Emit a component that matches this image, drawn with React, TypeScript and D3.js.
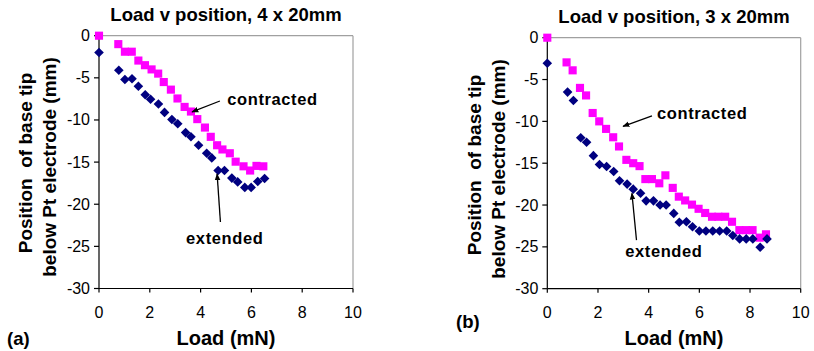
import * as d3 from "d3";

// ---- data ----
const xTicks = [0, 2, 4, 6, 8, 10];
const yTicks = [0, -5, -10, -15, -20, -25, -30];

const aContractedX = [0, 0.76, 1.02, 1.29, 1.55, 1.81, 2.07, 2.33, 2.55, 2.83, 3.09, 3.37, 3.62, 3.87, 4.17, 4.4, 4.65, 4.86, 5.15, 5.38, 5.69, 5.95, 6.2, 6.47];
const aContractedY = [0, -1.0, -1.9, -1.9, -2.95, -3.5, -4.0, -4.5, -5.5, -6.4, -7.45, -8.45, -9.0, -9.9, -10.9, -12.0, -13.0, -13.5, -13.95, -14.95, -15.5, -16.0, -15.45, -15.5];

const aExtendedX = [0, 0.78, 1.02, 1.3, 1.55, 1.82, 2.03, 2.34, 2.58, 2.87, 3.1, 3.41, 3.62, 3.92, 4.24, 4.44, 4.69, 4.94, 5.23, 5.46, 5.74, 5.99, 6.25, 6.52];
const aExtendedY = [-2.0, -4.1, -5.2, -5.1, -6.0, -7.0, -7.55, -8.1, -9.1, -9.95, -10.45, -11.5, -12.0, -13.0, -13.95, -14.5, -16.0, -16.0, -16.9, -17.35, -18.0, -18.0, -17.3, -16.95];

const bContractedX = [0, 0.76, 1.0, 1.29, 1.53, 1.79, 2.05, 2.32, 2.6, 2.83, 3.12, 3.39, 3.64, 3.87, 4.13, 4.42, 4.66, 4.95, 5.19, 5.44, 5.71, 5.97, 6.23, 6.5, 6.75, 7.02, 7.29, 7.58, 7.84, 8.1, 8.38, 8.63];
const bContractedY = [0, -2.95, -3.9, -6.0, -6.9, -9.0, -10.0, -10.9, -11.9, -13.0, -14.6, -15.0, -15.35, -16.9, -16.9, -17.4, -16.45, -17.95, -19.0, -19.45, -19.95, -20.45, -20.95, -21.4, -21.4, -21.4, -22.0, -23.0, -23.0, -23.0, -23.9, -23.5];

const bExtendedX = [0, 0.8, 1.03, 1.32, 1.55, 1.82, 2.06, 2.34, 2.62, 2.85, 3.15, 3.39, 3.68, 3.9, 4.19, 4.45, 4.69, 4.99, 5.21, 5.49, 5.73, 6.0, 6.26, 6.53, 6.8, 7.08, 7.32, 7.59, 7.85, 8.11, 8.4, 8.67];
const bExtendedY = [-3.05, -6.5, -7.5, -11.95, -12.5, -14.1, -15.15, -15.4, -16.0, -17.1, -17.5, -18.1, -18.6, -19.5, -19.5, -20.0, -20.0, -21.0, -22.05, -22.0, -22.6, -23.1, -23.1, -23.1, -23.1, -23.1, -23.65, -24.05, -24.05, -24.05, -25.05, -24.05];

const titles = ["Load v position, 4 x 20mm", "Load v position, 3 x 20mm"];
const panelLabels = ["(a)", "(b)"];

const PINK = "#ff00ff";
const NAVY = "#000080";
const FONT = "Liberation Sans, Arial, sans-serif";

type Note = { text: string; tx: number; ty: number; anchor: string; from: [number, number]; to: [number, number] };

interface PanelProps {
  box: { left: number; right: number; top: number; bottom: number };
  title: string;
  titleX: number;
  titleY: number;
  label: string;
  labelX: number;
  labelY: number;
  yTitleX: [number, number];
  yTitleY: number;
  cx: number[];
  cy: number[];
  ex: number[];
  ey: number[];
  notes: Note[];
  id: string;
}

// square-ish diamond, like Excel's marker
const diamondPath = "M0,-4.8 L4.8,0 L0,4.8 L-4.8,0 Z";

function Panel(p: PanelProps) {
  const x = d3.scaleLinear().domain([0, 10]).range([p.box.left, p.box.right]);
  const y = d3.scaleLinear().domain([0, -30]).range([p.box.top, p.box.bottom]);
  const sq = d3.symbol().type(d3.symbolSquare).size(66)()!;

  return (
    <g>
      <text x={p.titleX} y={p.titleY} textAnchor="middle" fontFamily={FONT} fontWeight="bold" fontSize={18.5}>
        {p.title}
      </text>
      {/* plot frame */}
      <line x1={x(0)} x2={x(10)} y1={y(0)} y2={y(0)} stroke="#a0a0a0" strokeWidth={1.2} />
      <line x1={x(10)} x2={x(10)} y1={y(0)} y2={y(-30)} stroke="#a0a0a0" strokeWidth={1.2} />
      <line x1={x(0)} x2={x(0)} y1={y(0)} y2={y(-30)} stroke="#000" strokeWidth={1.2} />
      <line x1={x(0)} x2={x(10)} y1={y(-30)} y2={y(-30)} stroke="#000" strokeWidth={1.2} />

      {yTicks.map((t) => (
        <g key={"y" + t}>
          <line x1={x(0) - 5} x2={x(0)} y1={y(t)} y2={y(t)} stroke="#000" strokeWidth={1.2} />
          <text x={x(0) - 9} y={y(t) + 5.5} textAnchor="end" fontFamily={FONT} fontSize={16}>
            {t}
          </text>
        </g>
      ))}
      {xTicks.map((t) => (
        <g key={"x" + t}>
          <line x1={x(t)} x2={x(t)} y1={y(-30)} y2={y(-30) + 4} stroke="#000" strokeWidth={1.2} />
          <text x={x(t)} y={y(-30) + 29} textAnchor="middle" fontFamily={FONT} fontSize={16}>
            {t}
          </text>
        </g>
      ))}

      <text x={(x(0) + x(10)) / 2} y={345} textAnchor="middle" fontFamily={FONT} fontWeight="bold" fontSize={20}>
        Load (mN)
      </text>
      <text x={p.labelX} y={p.labelY} fontFamily={FONT} fontWeight="bold" fontSize={18.5}>
        {p.label}
      </text>

      <text transform={`translate(${p.yTitleX[0]},${p.yTitleY}) rotate(-90)`} textAnchor="middle" fontFamily={FONT} fontWeight="bold" fontSize={19} style={{ whiteSpace: "pre" }}>
        {"Position  of base tip"}
      </text>
      <text transform={`translate(${p.yTitleX[1]},${p.yTitleY + 4}) rotate(-90)`} textAnchor="middle" fontFamily={FONT} fontWeight="bold" fontSize={19}>
        below Pt electrode (mm)
      </text>

      {p.cx.map((v, i) => (
        <path key={"c" + i} d={sq} transform={`translate(${x(v)},${y(p.cy[i])})`} fill={PINK} />
      ))}
      {p.ex.map((v, i) => (
        <path key={"e" + i} d={diamondPath} transform={`translate(${x(v)},${y(p.ey[i])})`} fill={NAVY} />
      ))}

      {p.notes.map((n, i) => (
        <g key={"n" + i}>
          <line x1={x(n.from[0])} y1={y(n.from[1])} x2={x(n.to[0])} y2={y(n.to[1])} stroke="#000" strokeWidth={1.3} markerEnd={`url(#arrow-${p.id})`} />
          <text x={x(n.tx)} y={y(n.ty)} textAnchor={n.anchor} fontFamily={FONT} fontWeight="bold" fontSize={16.5} letterSpacing={0.6}>
            {n.text}
          </text>
        </g>
      ))}
    </g>
  );
}

export default function App() {
  return (
    <svg width={814} height={351} style={{ position: "absolute", left: 0, top: 0, background: "#fff" }}>
      <defs>
        {["a", "b"].map((id) => (
          <marker key={id} id={`arrow-${id}`} viewBox="0 0 10 10" refX={9} refY={5} markerWidth={7} markerHeight={7} orient="auto" markerUnits="userSpaceOnUse">
            <path d="M0,1 L10,5 L0,9 z" fill="#000" />
          </marker>
        ))}
      </defs>
      <Panel
        id="a"
        box={{ left: 99, right: 353, top: 35.7, bottom: 288.5 }}
        title={titles[0]}
        titleX={226}
        titleY={21}
        label={panelLabels[0]}
        labelX={7}
        labelY={345}
        yTitleX={[32, 56]}
        yTitleY={163}
        cx={aContractedX}
        cy={aContractedY}
        ex={aExtendedX}
        ey={aExtendedY}
        notes={[
          { text: "contracted", tx: 5.05, ty: -8.2, anchor: "start", from: [4.76, -7.75], to: [3.66, -9.05] },
          { text: "extended", tx: 4.95, ty: -24.7, anchor: "middle", from: [4.78, -22.1], to: [4.65, -16.4] },
        ]}
      />
      <Panel
        id="b"
        box={{ left: 547.3, right: 800.7, top: 37.7, bottom: 288.7 }}
        title={titles[1]}
        titleX={674}
        titleY={23}
        label={panelLabels[1]}
        labelX={456}
        labelY={328}
        yTitleX={[481, 505]}
        yTitleY={165}
        cx={bContractedX}
        cy={bContractedY}
        ex={bExtendedX}
        ey={bExtendedY}
        notes={[
          { text: "contracted", tx: 4.33, ty: -9.7, anchor: "start", from: [4.13, -9.35], to: [2.99, -10.6] },
          { text: "extended", tx: 4.6, ty: -26.2, anchor: "middle", from: [3.52, -24.2], to: [3.34, -18.6] },
        ]}
      />
    </svg>
  );
}
